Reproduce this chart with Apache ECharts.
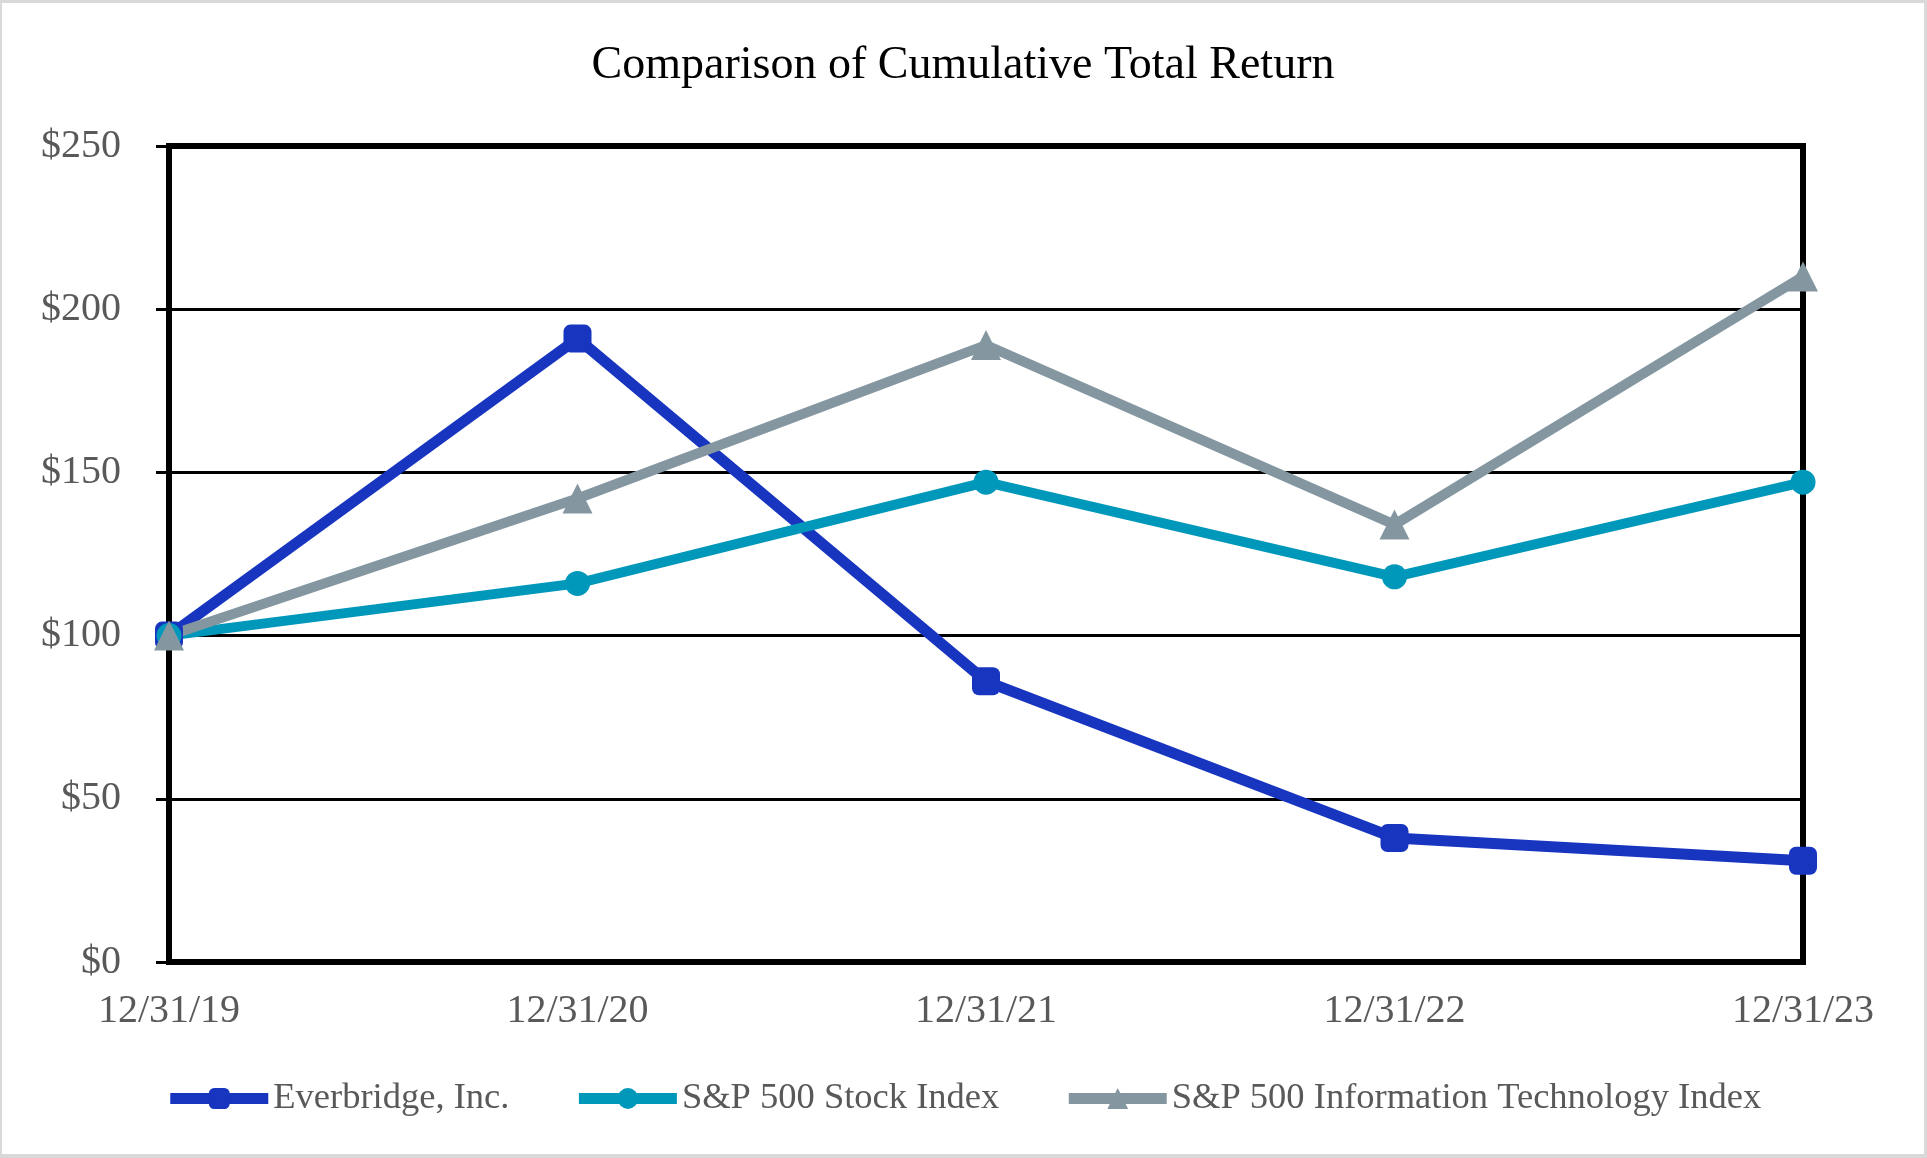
<!DOCTYPE html>
<html>
<head>
<meta charset="utf-8">
<script src="https://cdn.jsdelivr.net/npm/echarts@6/dist/echarts.min.js"></script>
<style>
  html, body { margin: 0; padding: 0; background: #d9d9d9; }
  #chart { position: absolute; left: 2px; top: 3px; width: 1922px; height: 1151px; background: #ffffff; }
</style>
</head>
<body>
<div id="chart"></div>
<script>
const categories = ['12/31/19', '12/31/20', '12/31/21', '12/31/22', '12/31/23'];
const everbridge = [100, 191, 86, 38, 31];
const sp500 = [100, 116, 147, 118, 147];
const spIT = [100, 142, 189, 134, 210];
const yTicks = { min: 0, max: 250, interval: 50 };

const chart = echarts.init(document.getElementById('chart'));
const serif = '"Liberation Serif", "Times New Roman", serif';

chart.setOption({
  animation: false,
  backgroundColor: '#ffffff',
  title: {
    text: 'Comparison of Cumulative Total Return',
    left: 'center',
    top: 35,
    textStyle: { fontFamily: serif, fontSize: 46, fontWeight: 'normal', color: '#000000' }
  },
  legend: {
    left: 'center',
    top: 1072,
    itemWidth: 98,
    itemHeight: 26,
    itemGap: 64,
    lineStyle: { width: 11 },
    textStyle: { fontFamily: serif, fontSize: 36.5, color: '#595959' },
    data: ['Everbridge, Inc.', 'S&P 500 Stock Index', 'S&P 500 Information Technology Index']
  },
  grid: {
    left: 167,
    right: 121,
    top: 143,
    bottom: 192,
    show: true,
    borderColor: '#000000',
    borderWidth: 6,
    containLabel: false
  },
  xAxis: {
    type: 'category',
    data: categories,
    boundaryGap: false,
    axisLine: { show: true, lineStyle: { color: '#000000', width: 6 } },
    axisTick: { show: false },
    axisLabel: { margin: 29, fontFamily: serif, fontSize: 40, color: '#595959' },
    splitLine: { show: false }
  },
  yAxis: {
    type: 'value',
    min: yTicks.min,
    max: yTicks.max,
    interval: yTicks.interval,
    axisLine: { show: true, lineStyle: { color: '#000000', width: 6 } },
    axisTick: { show: true, inside: false, length: 13, lineStyle: { color: '#000000', width: 3 } },
    axisLabel: { margin: 48, fontFamily: serif, fontSize: 40, color: '#595959', formatter: v => '$' + v },
    splitLine: { show: true, lineStyle: { color: '#000000', width: 3 } }
  },
  series: [
    {
      name: 'Everbridge, Inc.',
      type: 'line',
      data: everbridge,
      symbol: 'roundRect',
      symbolSize: 28,
      color: '#1835C0',
      lineStyle: { width: 11, color: '#1835C0' },
      itemStyle: { color: '#1835C0' }
    },
    {
      name: 'S&P 500 Stock Index',
      type: 'line',
      data: sp500,
      symbol: 'circle',
      symbolSize: 25,
      color: '#0098BA',
      lineStyle: { width: 10, color: '#0098BA' },
      itemStyle: { color: '#0098BA' }
    },
    {
      name: 'S&P 500 Information Technology Index',
      type: 'line',
      data: spIT,
      symbol: 'triangle',
      symbolSize: 30,
      color: '#8497A1',
      lineStyle: { width: 10, color: '#8497A1' },
      itemStyle: { color: '#8497A1' }
    }
  ]
});
</script>
</body>
</html>
